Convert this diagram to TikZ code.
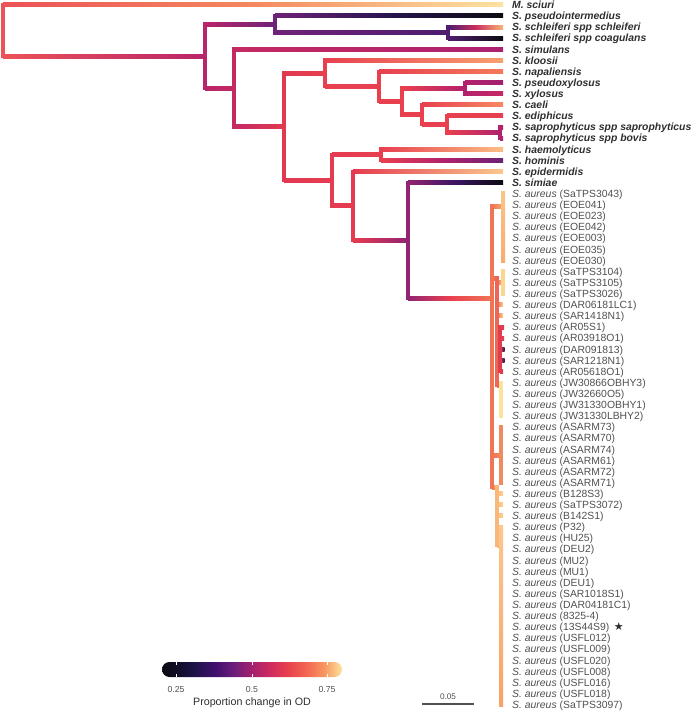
\documentclass[tikz,border=0pt]{standalone}
\usepackage{fontspec}
\setmainfont{Liberation Sans}
\newfontfamily\symfont{DejaVu Sans}
\definecolor{labdark}{HTML}{2E2E2E}
\definecolor{labgray}{HTML}{505050}
\definecolor{cRoot}{HTML}{EC5257}
\definecolor{cSci}{HTML}{FCE2A0}
\definecolor{cSciM}{HTML}{F4895E}
\definecolor{cA}{HTML}{B8256A}
\definecolor{cB}{HTML}{6E2278}
\definecolor{cBlk}{HTML}{0C0B10}
\definecolor{cNavy}{HTML}{27154F}
\definecolor{cC}{HTML}{4E1C70}
\definecolor{cSch}{HTML}{FAB275}
\definecolor{cSchM}{HTML}{C9305E}
\definecolor{cD}{HTML}{C42962}
\definecolor{cSim}{HTML}{AD2170}
\definecolor{cE}{HTML}{E13A50}
\definecolor{cF}{HTML}{E8404F}
\definecolor{cKlo}{HTML}{F8A06E}
\definecolor{cNap}{HTML}{F47A5A}
\definecolor{cL}{HTML}{B3216C}
\definecolor{cPsx}{HTML}{A01F71}
\definecolor{cXyl}{HTML}{C82862}
\definecolor{cCae}{HTML}{F68A62}
\definecolor{cEdi}{HTML}{E5404F}
\definecolor{cJ}{HTML}{B0236D}
\definecolor{cM}{HTML}{E43B50}
\definecolor{cHae}{HTML}{FBBE84}
\definecolor{cHom}{HTML}{6A2176}
\definecolor{cHomM}{HTML}{B3226B}
\definecolor{cEpi}{HTML}{FBC88C}
\definecolor{cP}{HTML}{922473}
\definecolor{cSimM}{HTML}{3A1462}
\definecolor{cQ}{HTML}{F07555}
\definecolor{cQ1}{HTML}{F9AB70}
\definecolor{cQ1t}{HTML}{FBC488}
\definecolor{cR}{HTML}{EE6655}
\definecolor{cYel}{HTML}{FCD590}
\definecolor{cRd}{HTML}{E03D50}
\definecolor{cDk}{HTML}{2A1250}
\definecolor{cPale}{HTML}{FDE29C}
\definecolor{cAs}{HTML}{F28A60}
\definecolor{cT}{HTML}{FAB878}
\definecolor{cU}{HTML}{FCC88C}
\definecolor{cUb}{HTML}{F8A267}
\definecolor{k0}{HTML}{0C0B14}
\definecolor{k1}{HTML}{100D24}
\definecolor{k2}{HTML}{1E1348}
\definecolor{k3}{HTML}{40116F}
\definecolor{k4}{HTML}{6A1D7A}
\definecolor{k5}{HTML}{A3216E}
\definecolor{k6}{HTML}{CD2A5F}
\definecolor{k7}{HTML}{E8404E}
\definecolor{k8}{HTML}{F26452}
\definecolor{k9}{HTML}{F8965F}
\definecolor{k10}{HTML}{FCE39E}
\pgfdeclarehorizontalshading{cbar}{100bp}{color(0bp)=(k0); color(25bp)=(k0); color(28.9bp)=(k1); color(33.9bp)=(k2); color(39.8bp)=(k3); color(44.8bp)=(k4); color(49.8bp)=(k5); color(54.9bp)=(k6); color(59.9bp)=(k7); color(64.9bp)=(k8); color(70bp)=(k9); color(75bp)=(k10); color(100bp)=(k10)}
\newcommand\HE[5]{\shade[left color=#4,right color=#5] (#1,#3-2) rectangle (#2,#3+2);}
\newcommand\HEM[6]{\shade[left color=#4,right color=#5,middle color=#6] (#1,#3-2) rectangle (#2,#3+2);}
\newcommand\VE[4]{\draw[line width=4pt,#4,line cap=rect] (#1,#2)--(#1,#3);}
\newcommand\VS[5]{\shade[top color=#4,bottom color=#5] (#1-2,#2-2) rectangle (#1+2,#3+2);}
\begin{document}
\begin{tikzpicture}[x=1pt,y=-1pt,
  sp/.style={anchor=base west,inner sep=0,font=\fontsize{10.4}{12}\selectfont\bfseries\itshape,text=labdark},
  au/.style={anchor=base west,inner sep=0,font=\fontsize{10.4}{12}\selectfont,text=labgray}]
\useasboundingbox (0,0) rectangle (692,712);
% ---- horizontal edges
\HEM{3}{503}{4.8}{cRoot}{cSci}{cSciM}
\HE{3}{205}{56.1}{cRoot}{cA}
\HE{205}{275}{24.2}{cA}{cB}
\HEM{275}{503}{15.9}{cB}{cBlk}{cNavy}
\HE{275}{448}{32.55}{cB}{cC}
\HEM{448}{503}{27.0}{cC}{cSch}{cSchM}
\HE{448}{503}{38.1}{cC}{cBlk}
\HE{205}{234}{88.0}{cA}{cD}
\HE{234}{503}{49.2}{cD}{cSim}
\HE{234}{284}{126.9}{cD}{cE}
\HE{284}{325}{73.4}{cE}{cF}
\HE{325}{503}{60.4}{cF}{cKlo}
\HE{325}{379}{86.4}{cF}{cF}
\HE{379}{503}{71.5}{cF}{cNap}
\HE{379}{402}{101.3}{cF}{cF}
\HE{402}{465}{88.2}{cF}{cL}
\HE{465}{503}{82.6}{cL}{cPsx}
\HE{465}{503}{93.7}{cL}{cXyl}
\HE{402}{422}{114.5}{cF}{cF}
\HE{422}{503}{104.8}{cF}{cCae}
\HE{422}{447}{124.2}{cF}{cF}
\HE{447}{503}{115.9}{cF}{cEdi}
\HE{447}{500}{132.5}{cF}{cJ}
\HE{500}{503}{127.0}{cJ}{cJ}
\HE{500}{503}{138.1}{cJ}{cJ}
\HE{284}{332}{180.3}{cE}{cM}
\HE{332}{381}{154.7}{cM}{cF}
\HE{381}{503}{149.2}{cF}{cHae}
\HEM{381}{503}{160.3}{cF}{cHom}{cHomM}
\HE{332}{353}{205.9}{cM}{cM}
\HE{353}{503}{171.5}{cM}{cEpi}
\HE{353}{408}{240.3}{cM}{cP}
\HEM{408}{503}{182.6}{cP}{cBlk}{cSimM}
\HEM{408}{492}{298}{cP}{cQ}{cF}
% aureus clade
\HE{492}{503}{206}{cQ}{cQ1}
\HE{492}{497}{278}{cQ}{cR}
\HE{497}{503}{282.5}{cR}{cYel}
\HE{497}{503}{304.8}{cR}{cYel}
\HE{497}{503}{315.9}{cR}{cYel}
\HE{497}{500}{349.2}{cR}{cRd}
\HE{500}{504}{327.0}{cRd}{cRd}
\HE{500}{504}{338.1}{cRd}{cRd}
\HE{500}{504.5}{349.2}{cRd}{cDk}
\HE{500}{504.5}{360.3}{cRd}{cDk}
\HE{500}{503}{371.4}{cRd}{cRd}
\HE{497}{501}{385}{cR}{cPale}
\HE{492}{501}{455}{cQ}{cAs}
\HE{492}{497}{487}{cQ}{cT}
\HE{497}{503}{493.6}{cT}{cYel}
\HE{497}{503}{504.7}{cT}{cYel}
\HE{497}{503}{515.9}{cT}{cYel}
\HE{497}{501}{545}{cT}{cU}
% ---- vertical edges
\VE{3}{4.8}{56.1}{cRoot}
\VE{205}{24.2}{88.0}{cA}
\VE{275}{15.9}{32.55}{cB}
\VE{448}{27.0}{38.1}{cC}
\VE{234}{49.2}{126.9}{cD}
\VE{284}{73.4}{180.3}{cE}
\VE{325}{60.4}{86.4}{cF}
\VE{379}{71.5}{101.3}{cF}
\VE{402}{88.2}{114.5}{cF}
\VE{465}{82.6}{93.7}{cL}
\VE{422}{104.8}{124.2}{cF}
\VE{447}{115.9}{132.5}{cF}
\VE{500}{127.0}{138.1}{cJ}
\VE{332}{154.7}{205.9}{cM}
\VE{381}{149.2}{160.3}{cF}
\VE{353}{171.5}{240.3}{cM}
\VE{408}{182.6}{298}{cP}
\VE{492}{206}{487}{cQ}
\VS{503}{193.7}{260.3}{cQ1t}{cQ1}
\VE{497}{278}{385}{cR}
\VE{503}{271.4}{293.7}{cYel}
\VE{500}{327}{371.4}{cRd}
\VE{501}{382.5}{415.9}{cPale}
\VE{501}{427}{482.5}{cAs}
\VE{497}{487}{545}{cT}
\VS{501}{527}{704.7}{cU}{cUb}
% ---- tip labels
\foreach \i/\t in {0/M. sciuri,1/S. pseudointermedius,2/S. schleiferi spp schleiferi,3/S. schleiferi spp coagulans,4/S. simulans,5/S. kloosii,6/S. napaliensis,7/S. pseudoxylosus,8/S. xylosus,9/S. caeli,10/S. ediphicus,11/S. saprophyticus spp saprophyticus,12/S. saprophyticus spp bovis,13/S. haemolyticus,14/S. hominis,15/S. epidermidis,16/S. simiae}
  {\node[sp] (tip\i) at (512,{4.8+11.11*\i+3.8}) {\t};}
\foreach \i/\c in {17/SaTPS3043,18/EOE041,19/EOE023,20/EOE042,21/EOE003,22/EOE035,23/EOE030,24/SaTPS3104,25/SaTPS3105,26/SaTPS3026,27/DAR06181LC1,28/SAR1418N1,29/AR05S1,30/AR03918O1,31/DAR091813,32/SAR1218N1,33/AR05618O1,34/JW30866OBHY3,35/JW32660O5,36/JW31330OBHY1,37/JW31330LBHY2,38/ASARM73,39/ASARM70,40/ASARM74,41/ASARM61,42/ASARM72,43/ASARM71,44/B128S3,45/SaTPS3072,46/B142S1,47/P32,48/HU25,49/DEU2,50/MU2,51/MU1,52/DEU1,53/SAR1018S1,54/DAR04181C1,55/8325-4,57/USFL012,58/USFL009,59/USFL020,60/USFL008,61/USFL016,62/USFL018,63/SaTPS3097}
  {\node[au] (tip\i) at (512,{4.8+11.11*\i+3.8}) {\textit{S. aureus} (\c)};}
\node[au] (tip56) at (512,{4.8+11.11*56+3.8}) {\textit{S. aureus} (13S44S9)\hspace{4.5pt}{\symfont\fontsize{11}{12}\selectfont\textcolor{labdark}{★}}};
% ---- colour bar legend
\begin{scope}
\clip[rounded corners=7.5pt] (162,662) rectangle (342,677);
\shade[shading=cbar] (162,662) rectangle (342,677);
\end{scope}
\foreach \x in {176,252,327}{
  \draw[white,line width=0.5pt] (\x,662)--(\x,665);
  \draw[white,line width=0.5pt] (\x,674)--(\x,677);}
\node[font=\fontsize{8.7}{10}\selectfont,text=labgray] (t25) at (176,689) {0.25};
\node[font=\fontsize{8.7}{10}\selectfont,text=labgray] (t50) at (252,689) {0.5};
\node[font=\fontsize{8.7}{10}\selectfont,text=labgray] (t75) at (327,689) {0.75};
\node[font=\fontsize{10.7}{12}\selectfont,text=labdark] (ltitle) at (252,703) {Proportion change in OD};
% ---- scale bar
\coordinate (sb1) at (422,704);
\coordinate (sb2) at (474,704);
\draw[labgray,line width=1.3pt] (sb1)--(sb2);
\node[font=\fontsize{8.2}{10}\selectfont,text=labgray] (sblab) at (448,697) {0.05};
\end{tikzpicture}
\end{document}
